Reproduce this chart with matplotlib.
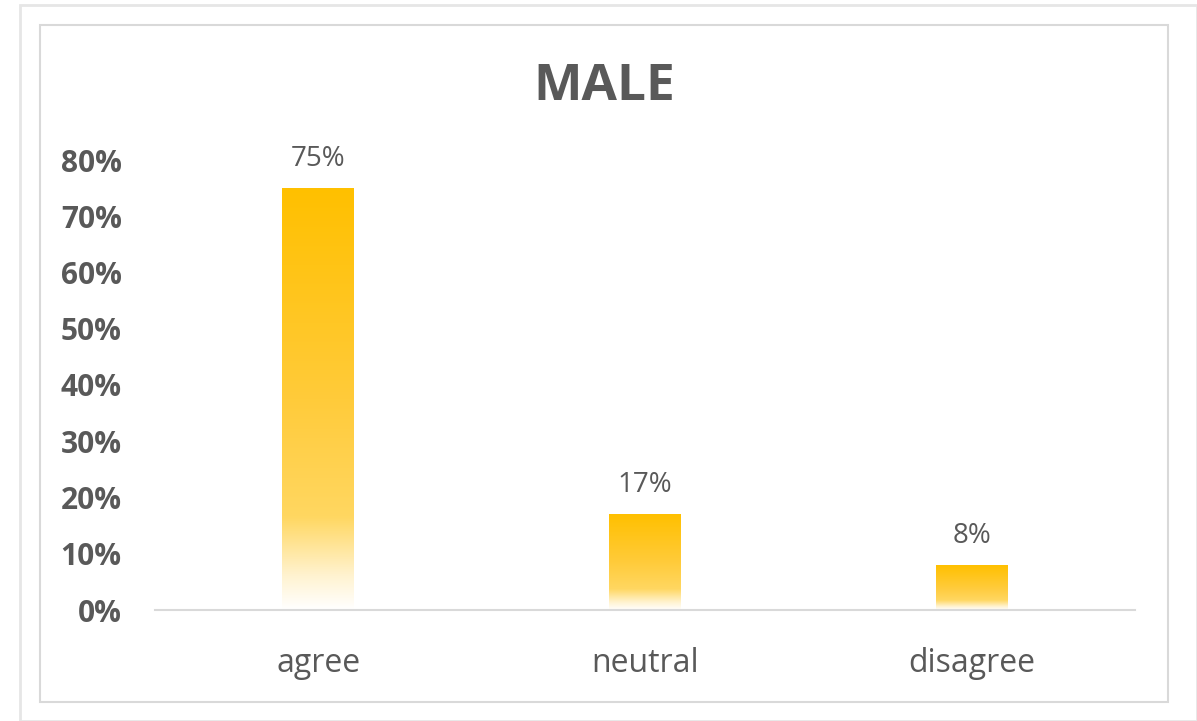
import numpy as np
import matplotlib.pyplot as plt
from matplotlib.patches import Rectangle
from matplotlib.colors import LinearSegmentedColormap
from matplotlib.ticker import PercentFormatter

categories = ['agree', 'neutral', 'disagree']
values = [0.75, 0.17, 0.08]
labels = ['75%', '17%', '8%']

grey = '#595959'
plt.rcParams['font.family'] = ['Open Sans', 'DejaVu Sans']

fig = plt.figure(figsize=(11.97, 7.21), dpi=100)
W, H = 1197, 721

# outer card and inner chart border (behind the axes)
fig.patches.append(Rectangle((20 / W, 0), 1 - 20 / W, 1 - 5 / H, transform=fig.transFigure,
                             facecolor='white', edgecolor='#e6e6e6', lw=2, zorder=-10))
fig.patches.append(Rectangle((40 / W, 1 - 702 / H), 1128 / W, 677 / H, transform=fig.transFigure,
                             facecolor='none', edgecolor='#d9d9d9', lw=1.5, zorder=-9))

ax = fig.add_axes([155 / W, 1 - 610 / H, 980 / W, 450 / H])
ax.patch.set_visible(False)

# gradient: dark gold at top, fading to white at the bottom
cmap = LinearSegmentedColormap.from_list('gold', [
    (0.0, '#ffffff'), (0.08, '#fff3d0'), (0.22, '#ffd761'),
    (0.5, '#ffcb3a'), (1.0, '#ffc000')])
grad = np.linspace(0, 1, 256).reshape(-1, 1)

bw = 0.22
bars = ax.bar(range(len(values)), values, width=bw, color='none', edgecolor='none')
for b in bars:
    x0, y0 = b.get_x(), b.get_y()
    im = ax.imshow(grad, cmap=cmap, aspect='auto', origin='lower',
                   extent=[x0, x0 + b.get_width(), y0, y0 + b.get_height()], zorder=2)
    im.set_clip_path(b)
ax.set_xlim(-0.5, 2.5)
ax.set_ylim(0, 0.8)

for i, (v, lab) in enumerate(zip(values, labels)):
    ax.annotate(lab, (i, v), xytext=(0, 11), textcoords='offset points',
                ha='center', va='bottom', fontsize=20, color=grey)

ax.set_xticks(range(len(categories)))
ax.set_xticklabels(categories, fontsize=23, color=grey)
ax.set_yticks(np.arange(0, 0.81, 0.1))
ax.yaxis.set_major_formatter(PercentFormatter(1.0, decimals=0))
for t in ax.get_yticklabels():
    t.set_fontweight('bold')
    t.set_fontsize(21.5)
    t.set_color(grey)
ax.tick_params(axis='both', length=0)
ax.tick_params(axis='x', pad=27)
ax.tick_params(axis='y', pad=24)

for s in ['top', 'right', 'left']:
    ax.spines[s].set_visible(False)
ax.spines['bottom'].set_color('#d9d9d9')
ax.spines['bottom'].set_linewidth(1.5)

fig.text((40 + 1168) / 2 / W, 1 - 87 / H, 'MALE', ha='center', va='center',
         fontsize=37, fontweight='bold', color=grey)

fig.savefig('out.png', dpi=100)
